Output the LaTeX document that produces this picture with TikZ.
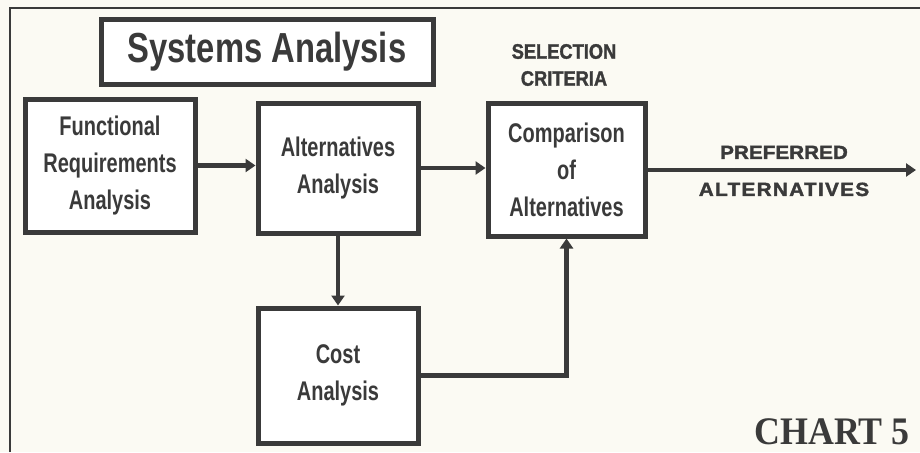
\documentclass[tikz,border=0pt]{standalone}
\usepackage{fontspec}
\setmainfont{Liberation Sans}
\newfontfamily\boxfont[FakeStretch=0.74]{Liberation Sans}
\newfontfamily\titlefont[FakeStretch=0.78]{Liberation Sans}
\newfontfamily\selfont[FakeStretch=0.87,FakeBold=1.5]{Liberation Sans}
\newfontfamily\widefont[FakeStretch=1.09,FakeBold=2]{Liberation Sans}
\newfontfamily\widerfont[FakeStretch=1.09,FakeBold=2,LetterSpace=7]{Liberation Sans}
\newfontfamily\chartfont[FakeStretch=0.92]{Liberation Serif}
\usetikzlibrary{arrows.meta}
\definecolor{ink}{HTML}{3A3A3A}
\definecolor{paper}{HTML}{FBFAF3}
\tikzset{
  blk/.style={draw=ink, line width=5pt, fill=white, text=ink, align=center,
    font=\boxfont\bfseries\fontsize{27}{37}\selectfont, inner sep=0pt},
  arr/.style={draw=ink, line width=4.5pt, -{Triangle[length=10pt,width=13pt]}},
  lbl/.style={text=ink, align=center, inner sep=0pt}
}
\begin{document}
\begin{tikzpicture}[x=1pt,y=-1pt]
\useasboundingbox (0,0) rectangle (920,452);
\fill[paper] (0,0) rectangle (920,452);
\draw[ink, line width=2pt] (10,452) -- (10,8) -- (920,8);

\node[blk, minimum width=332pt, minimum height=64pt,
  font=\titlefont\bfseries\fontsize{42}{44}\selectfont] (title) at (267,52) {Systems Analysis};
\node[blk, minimum width=170pt, minimum height=133pt] (fr) at (110,165.5) {Functional\\Requirements\\Analysis};
\node[blk, minimum width=160pt, minimum height=130pt] (aa) at (338,168) {Alternatives\\Analysis};
\node[blk, minimum width=157pt, minimum height=133pt] (cmp) at (566.5,169.5) {Comparison\\of\\Alternatives};
\node[blk, minimum width=160pt, minimum height=135pt] (cost) at (338,375.5) {Cost\\Analysis};

\node[lbl, font=\selfont\bfseries\fontsize{21}{27}\selectfont] (sel) at (564,65) {SELECTION\\CRITERIA};
\node[lbl, font=\widefont\bfseries\fontsize{19}{37}\selectfont] (pref) at (784,171) {PREFERRED\\{\widerfont\bfseries ALTERNATIVES}};
\node[lbl, anchor=base east, font=\chartfont\bfseries\fontsize{39}{41}\selectfont] (chart) at (910,444) {CHART 5};

\coordinate (out) at (916,170);
\draw[arr] (fr.east) -- (fr.east -| aa.west);
\draw[arr] (aa.east) -- (aa.east -| cmp.west);
\draw[arr] (cmp.east |- out) -- (out);
\draw[arr] (aa.south) -- (cost.north);
\draw[arr] (cost.east) -| (cmp.south);
\end{tikzpicture}
\end{document}
